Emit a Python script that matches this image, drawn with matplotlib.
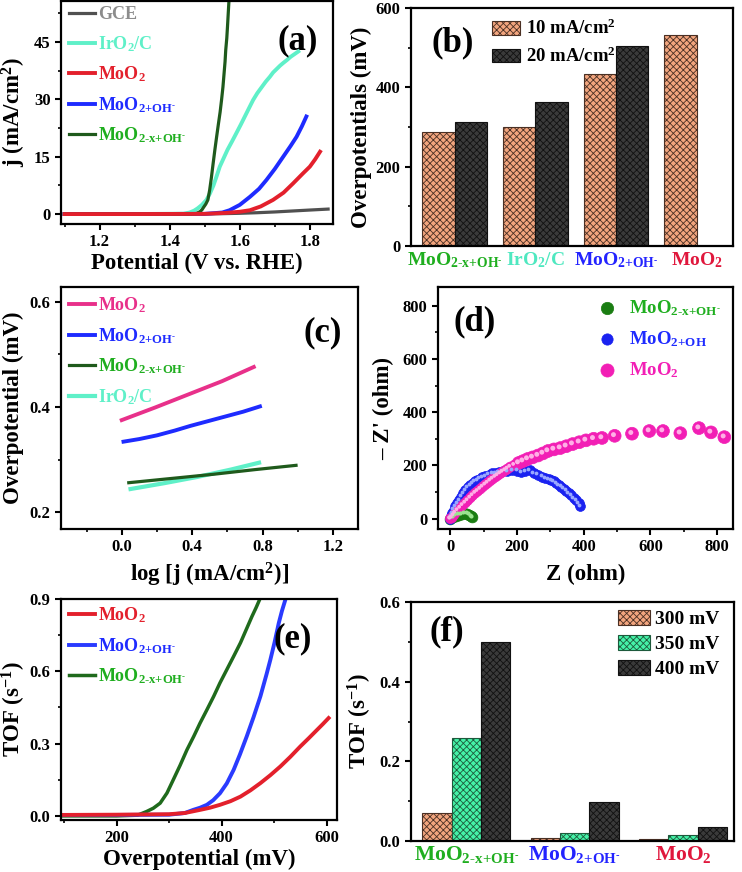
import numpy as np
import matplotlib
matplotlib.use("Agg")
import matplotlib.pyplot as plt
from matplotlib.ticker import MultipleLocator, FormatStrFormatter
from matplotlib import transforms

plt.rcParams['font.family'] = ['Liberation Serif', 'DejaVu Serif']
plt.rcParams['font.weight'] = 'bold'
plt.rcParams['axes.labelweight'] = 'bold'
plt.rcParams['mathtext.fontset'] = 'custom'
plt.rcParams['mathtext.rm'] = 'Liberation Serif:bold'
plt.rcParams['mathtext.it'] = 'Liberation Serif:bold'
plt.rcParams['mathtext.bf'] = 'Liberation Serif:bold'
plt.rcParams['mathtext.default'] = 'rm'
plt.rcParams['axes.linewidth'] = 1.6
plt.rcParams['hatch.linewidth'] = 0.6

# ---- labels
L_GCE = 'GCE'
L_IRO2 = r'IrO$_2$/C'
L_MOO2 = r'MoO$_2$'
L_OH = r'MoO$_{\text{2+OH}^{\text{-}}}$'
L_XOH = r'MoO$_{\text{2-x+OH}^{\text{-}}}$'
L_OH_D = r'MoO$_{\text{2+OH}}$'

# ---- (a) polarization curves
a_gce_v = [1.10, 1.30, 1.50, 1.55, 1.60, 1.65, 1.70, 1.75, 1.80, 1.852]
a_gce_j = [0.0, 0.0, 0.05, 0.1, 0.2, 0.35, 0.55, 0.8, 1.05, 1.3]
a_iro2_v = [1.10, 1.30, 1.44, 1.457, 1.47, 1.48, 1.492, 1.505, 1.515, 1.525, 1.534, 1.543,
            1.554, 1.565, 1.578, 1.590, 1.603, 1.615, 1.627, 1.638, 1.650, 1.662, 1.674,
            1.686, 1.695, 1.705, 1.715, 1.724, 1.735, 1.745, 1.756, 1.767]
a_iro2_j = [0.0, 0.0, 0.1, 0.4, 0.9, 1.5, 2.4, 3.7, 5.4, 7.5, 9.9, 12.4,
            14.6, 16.8, 19.0, 21.1, 23.4, 25.6, 27.8, 29.8, 31.6, 33.1, 34.6,
            35.9, 37.0, 37.9, 38.8, 39.5, 40.3, 41.1, 41.8, 42.5]
a_moo2_v = [1.10, 1.30, 1.50, 1.56, 1.60, 1.629, 1.66, 1.695, 1.725, 1.752, 1.78, 1.80, 1.815, 1.829]
a_moo2_j = [0.0, 0.0, 0.05, 0.3, 0.6, 1.0, 2.0, 3.7, 5.6, 8.0, 10.6, 12.4, 14.3, 16.3]
a_oh_v = [1.10, 1.30, 1.50, 1.55, 1.571, 1.60, 1.629, 1.655, 1.676, 1.70, 1.724, 1.745, 1.762, 1.777, 1.79]
a_oh_j = [0.0, 0.0, 0.05, 0.4, 1.0, 2.4, 4.5, 6.6, 8.9, 11.8, 15.0, 17.8, 20.2, 22.9, 25.5]
a_xoh_v = [1.10, 1.30, 1.46, 1.475, 1.486, 1.492, 1.497, 1.503, 1.509, 1.514, 1.519, 1.524,
           1.529, 1.534, 1.539, 1.544, 1.548, 1.552, 1.555, 1.558, 1.56, 1.563, 1.565, 1.569]
a_xoh_j = [0.0, 0.0, 0.0, 0.1, 0.6, 1.1, 1.8, 2.6, 3.7, 6.2, 9.5, 13.2,
           16.8, 20.2, 23.5, 26.7, 29.8, 33.2, 36.5, 39.8, 42.9, 46.0, 49.0, 55.5]

# ---- (b) overpotentials
b_cats = [L_XOH, L_IRO2, L_OH, L_MOO2]
b_cat_colors = ['#1fae1f', '#4fe8c0', '#2323ff', '#e0173c']
b_10 = [288, 300, 433, 533]
b_20 = [312, 363, 504, np.nan]

# ---- (c) Tafel plots
c_moo2_x = [0.00, 0.19, 0.38, 0.57, 0.75]
c_moo2_y = [0.375, 0.399, 0.424, 0.449, 0.476]
c_oh_x = [0.01, 0.10, 0.20, 0.30, 0.39, 0.49, 0.59, 0.69, 0.785]
c_oh_y = [0.334, 0.339, 0.346, 0.355, 0.364, 0.373, 0.382, 0.391, 0.401]
c_xoh_x = [0.04, 0.28, 0.52, 0.76, 0.99]
c_xoh_y = [0.256, 0.264, 0.272, 0.281, 0.289]
c_iro2_x = [0.05, 0.24, 0.43, 0.62, 0.78]
c_iro2_y = [0.244, 0.255, 0.267, 0.281, 0.294]

# ---- (d) Nyquist plots
d_moo2_z = [0, 5, 10, 15, 22, 30, 37, 45, 52, 60, 67, 75, 82, 90, 97, 105, 112, 120, 127,
            135, 142, 150, 157, 165, 172, 180, 192, 205, 218, 232, 247, 263, 278, 293, 311,
            330, 348, 367, 387, 407, 430, 455, 493, 545, 597, 638, 690, 746, 782, 822]
d_moo2_zz = [0, 3, 12, 21, 31, 40, 50, 59, 68, 78, 87, 96, 103, 111, 119, 127, 134, 142, 149,
             156, 162, 169, 175, 181, 187, 194, 201, 209, 216, 224, 230, 237, 245, 254, 260,
             265, 272, 280, 287, 294, 300, 303, 311, 319, 329, 329, 321, 340, 324, 306]
d_oh_z = [0, 3, 6, 10, 15, 20, 26, 32, 38, 45, 52, 60, 67, 73, 80, 88, 96, 105, 115, 125, 135,
          145, 157, 170, 185, 200, 212, 225, 238, 250, 262, 275, 285, 295, 303, 310, 318, 325,
          333, 340, 348, 355, 363, 370, 378, 385, 390]
d_oh_zz = [0, 10, 21, 34, 46, 58, 70, 83, 96, 108, 117, 126, 133, 140, 146, 150, 155, 160, 165,
           170, 172, 175, 177, 179, 181, 180, 174, 178, 181, 170, 165, 158, 153, 149, 145, 140,
           134, 126, 120, 113, 105, 96, 87, 78, 69, 58, 48]
d_xoh_z = [0, 8, 16, 25, 34, 42, 50, 57, 62, 65]
d_xoh_zz = [0, 6, 11, 15, 18, 20, 19, 15, 10, 5]

# ---- (e) TOF curves
e_moo2_x = [94, 200, 300, 330, 359, 378, 397, 417, 436, 455, 474, 493, 512, 531, 550, 566, 582, 593, 604]
e_moo2_y = [0.004, 0.005, 0.007, 0.012, 0.025, 0.034, 0.046, 0.061, 0.080, 0.106, 0.136, 0.169,
            0.205, 0.245, 0.288, 0.322, 0.357, 0.381, 0.406]
e_oh_x = [94, 200, 300, 330, 346, 359, 372, 384, 397, 410, 423, 435, 448, 461, 474, 486, 493,
          501, 509, 515, 522]
e_oh_y = [0.004, 0.004, 0.005, 0.012, 0.025, 0.034, 0.046, 0.065, 0.094, 0.135, 0.191, 0.255,
          0.33, 0.41, 0.496, 0.59, 0.648, 0.72, 0.80, 0.85, 0.90]
e_xoh_x = [94, 200, 240, 257, 270, 283, 296, 308, 321, 334, 347, 359, 372, 385, 397, 410, 423,
           436, 447, 458, 466, 473]
e_xoh_y = [0.0, 0.0, 0.003, 0.018, 0.032, 0.053, 0.095, 0.15, 0.21, 0.274, 0.33, 0.385, 0.44,
           0.496, 0.552, 0.607, 0.662, 0.718, 0.773, 0.828, 0.865, 0.9]

# ---- (f) TOF bars
f_cats = [L_XOH, L_OH, L_MOO2]
f_cat_colors = ['#1fae1f', '#2323ff', '#e0173c']
f_300 = [0.071, 0.0075, 0.006]
f_350 = [0.259, 0.019, 0.014]
f_400 = [0.500, 0.098, 0.035]

W, H = 742, 872
BOXES = {
    'a': (61, 333, 1, 224),
    'b': (411, 733, 8, 246),
    'c': (61, 358, 287, 529),
    'd': (438, 733, 287, 529),
    'e': (61, 337, 599, 820),
    'f': (411, 734, 602, 841),
}

TICK_FS = 12
LABEL_FS = 16.5
LEG_FS = 13


def make_ax(fig, key):
    l, r, t, b = BOXES[key]
    ax = fig.add_axes([l / W, 1 - b / H, (r - l) / W, (b - t) / H])
    ax.tick_params(which='major', direction='out', length=4, width=1.5, labelsize=TICK_FS)
    ax.tick_params(which='minor', direction='out', length=2.5, width=1.2)
    return ax


def bold_ticks(ax):
    for t in ax.get_xticklabels() + ax.get_yticklabels():
        t.set_fontweight('bold')


def panel_tag(ax, text, x, y):
    ax.text(x, y, text, transform=ax.transAxes, fontsize=25, fontweight='bold',
            ha='center', va='center')


def line_legend(ax, handles, labels, colors, anchor):
    leg = ax.legend(handles, labels, frameon=False, fontsize=LEG_FS, loc='upper left',
                    bbox_to_anchor=anchor, handlelength=1.45, handletextpad=0.15,
                    labelspacing=0.6, borderaxespad=0.2)
    for t, c in zip(leg.get_texts(), colors):
        t.set_color(c)
    return leg


def draw_a(fig):
    ax = make_ax(fig, 'a')
    ax.plot(a_gce_v, a_gce_j, color='#505050', lw=2.3, label=L_GCE)
    ax.plot(a_iro2_v, a_iro2_j, color='#5ff0c8', lw=2.8, label=L_IRO2)
    ax.plot(a_oh_v, a_oh_j, color='#1e2bff', lw=2.8, label=L_OH)
    ax.plot(a_xoh_v, a_xoh_j, color='#1f5a1c', lw=2.3, label=L_XOH)
    ax.plot(a_moo2_v, a_moo2_j, color='#e3202c', lw=2.8, label=L_MOO2)
    ax.set_xlim(1.09, 1.866)
    ax.set_ylim(-2.6, 55.7)
    ax.xaxis.set_major_locator(MultipleLocator(0.2))
    ax.xaxis.set_minor_locator(MultipleLocator(0.1))
    ax.yaxis.set_major_locator(MultipleLocator(15))
    ax.yaxis.set_minor_locator(MultipleLocator(7.5))
    ax.xaxis.set_major_formatter(FormatStrFormatter('%.1f'))
    ax.set_xlabel('Potential (V vs. RHE)', fontsize=LABEL_FS, labelpad=2)
    ax.set_ylabel(r'j (mA/cm$^2$)', fontsize=LABEL_FS, labelpad=4)
    h, l = ax.get_legend_handles_labels()
    order = [0, 1, 4, 2, 3]
    line_legend(ax, [h[i] for i in order], [l[i] for i in order],
                ['#8c8c8c', '#5ff0c8', '#e3202c', '#1e2bff', '#1fae1f'], (-0.01, 1.025))
    panel_tag(ax, '(a)', 0.87, 0.82)
    bold_ticks(ax)


def draw_b(fig):
    ax = make_ax(fig, 'b')
    x = np.arange(len(b_cats))
    ax.bar(x - 0.2, b_10, 0.4, color='#f2a57e', edgecolor='#4a3024', hatch='xxxxx',
           lw=0.8, label=r'10 mA/cm$^2$')
    ax.bar(x + 0.2, b_20, 0.4, color='#3a3a3a', edgecolor='#111111', hatch='xxxxx',
           lw=0.8, label=r'20 mA/cm$^2$')
    ax.set_xlim(-0.54, 3.45)
    ax.set_ylim(0, 600)
    ax.yaxis.set_major_locator(MultipleLocator(200))
    ax.yaxis.set_minor_locator(MultipleLocator(100))
    ax.set_xticks(x)
    ax.set_xticklabels(b_cats, fontsize=14)
    ax.tick_params(axis='x', length=0, pad=3)
    for t, c in zip(ax.get_xticklabels(), b_cat_colors):
        t.set_color(c)
    ax.set_ylabel('Overpotentials (mV)', fontsize=LABEL_FS, labelpad=3)
    ax.legend(frameon=False, fontsize=LEG_FS + 0.5, loc='upper left',
              bbox_to_anchor=(0.2, 1.025), handlelength=1.5, handleheight=0.75,
              handletextpad=0.3, labelspacing=0.45)
    panel_tag(ax, '(b)', 0.13, 0.855)
    bold_ticks(ax)


def draw_c(fig):
    ax = make_ax(fig, 'c')
    ax.plot(c_moo2_x, c_moo2_y, color='#e8308a', lw=2.8, label=L_MOO2)
    ax.plot(c_oh_x, c_oh_y, color='#1e2bff', lw=2.8, label=L_OH)
    ax.plot(c_iro2_x, c_iro2_y, color='#5ff0c8', lw=3.0, label=L_IRO2)
    ax.plot(c_xoh_x, c_xoh_y, color='#1f5a1c', lw=2.3, label=L_XOH)
    ax.set_xlim(-0.345, 1.342)
    ax.set_ylim(0.168, 0.628)
    ax.xaxis.set_major_locator(MultipleLocator(0.4))
    ax.xaxis.set_minor_locator(MultipleLocator(0.2))
    ax.yaxis.set_major_locator(MultipleLocator(0.2))
    ax.yaxis.set_minor_locator(MultipleLocator(0.1))
    ax.xaxis.set_major_formatter(FormatStrFormatter('%.1f'))
    ax.yaxis.set_major_formatter(FormatStrFormatter('%.1f'))
    ax.set_xlabel(r'log [j (mA/cm$^2$)]', fontsize=LABEL_FS, labelpad=4)
    ax.set_ylabel('Overpotential (mV)', fontsize=LABEL_FS, labelpad=4)
    h, l = ax.get_legend_handles_labels()
    order = [0, 1, 3, 2]
    line_legend(ax, [h[i] for i in order], [l[i] for i in order],
                ['#e8308a', '#1e2bff', '#1fae1f', '#5ff0c8'], (-0.01, 1.01))
    panel_tag(ax, '(c)', 0.88, 0.81)
    bold_ticks(ax)


def balls(ax, fig, x, y, color, light, size, label):
    ax.scatter(x, y, s=size, color=color, edgecolors=color, linewidths=0.5,
               label=label, zorder=3)
    off = transforms.offset_copy(ax.transData, fig=fig, x=-1.2, y=1.2, units='dots')
    ax.scatter(x, y, s=np.asarray(size) * 0.15, color=light, linewidths=0,
               transform=off, zorder=4)


def draw_d(fig):
    ax = make_ax(fig, 'd')
    mz = np.array(d_moo2_z)
    sizes = np.where(mz < 200, 50, 85)
    balls(ax, fig, d_xoh_z, d_xoh_zz, '#1a7d12', '#9be58f', 60, L_XOH)
    balls(ax, fig, d_oh_z, d_oh_zz, '#1a22f0', '#9aa8ff', 50, L_OH_D)
    balls(ax, fig, d_moo2_z, d_moo2_zz, '#f21fb5', '#ffb0e6', sizes, L_MOO2)
    ax.set_xlim(-37, 848)
    ax.set_ylim(-39, 870)
    ax.xaxis.set_major_locator(MultipleLocator(200))
    ax.xaxis.set_minor_locator(MultipleLocator(100))
    ax.yaxis.set_major_locator(MultipleLocator(200))
    ax.yaxis.set_minor_locator(MultipleLocator(100))
    ax.set_xlabel('Z (ohm)', fontsize=LABEL_FS, labelpad=6)
    ax.set_ylabel("– Z' (ohm)", fontsize=LABEL_FS, labelpad=6)
    h, l = ax.get_legend_handles_labels()
    leg = ax.legend(h, l, frameon=False, fontsize=LEG_FS + 0.5, loc='upper left',
                    bbox_to_anchor=(0.47, 1.0), handletextpad=0.2, labelspacing=0.6,
                    scatterpoints=1, markerscale=1.15, borderaxespad=0.2)
    for t, c in zip(leg.get_texts(), ['#1fae1f', '#1e2bff', '#f21fb5']):
        t.set_color(c)
    panel_tag(ax, '(d)', 0.125, 0.855)
    bold_ticks(ax)


def draw_e(fig):
    ax = make_ax(fig, 'e')
    ax.plot(e_xoh_x, e_xoh_y, color='#1f6a1c', lw=2.5, label=L_XOH)
    ax.plot(e_oh_x, e_oh_y, color='#2a3bff', lw=2.8, label=L_OH)
    ax.plot(e_moo2_x, e_moo2_y, color='#e3202c', lw=2.8, label=L_MOO2)
    ax.set_xlim(94, 620)
    ax.set_ylim(-0.017, 0.9)
    ax.xaxis.set_major_locator(MultipleLocator(200))
    ax.xaxis.set_minor_locator(MultipleLocator(100))
    ax.yaxis.set_major_locator(MultipleLocator(0.3))
    ax.yaxis.set_minor_locator(MultipleLocator(0.15))
    ax.yaxis.set_major_formatter(FormatStrFormatter('%.1f'))
    ax.set_xlabel('Overpotential (mV)', fontsize=LABEL_FS, labelpad=2)
    ax.set_ylabel(r'TOF (s$^{-1}$)', fontsize=LABEL_FS, labelpad=1)
    h, l = ax.get_legend_handles_labels()
    order = [2, 1, 0]
    line_legend(ax, [h[i] for i in order], [l[i] for i in order],
                ['#e3202c', '#1e2bff', '#1fae1f'], (-0.01, 1.02))
    panel_tag(ax, '(e)', 0.84, 0.82)
    bold_ticks(ax)


def draw_f(fig):
    ax = make_ax(fig, 'f')
    x = np.arange(len(f_cats))
    w = 0.27
    ax.bar(x - w, f_300, w, color='#f2a57e', edgecolor='#4a3024', hatch='xxxxx', lw=0.8,
           label='300 mV')
    ax.bar(x, f_350, w, color='#45f2a8', edgecolor='#1d5a3c', hatch='xxxxx', lw=0.8,
           label='350 mV')
    ax.bar(x + w, f_400, w, color='#3a3a3a', edgecolor='#111111', hatch='xxxxx', lw=0.8,
           label='400 mV')
    ax.set_xlim(-0.51, 2.47)
    ax.set_ylim(0, 0.6)
    ax.yaxis.set_major_locator(MultipleLocator(0.2))
    ax.yaxis.set_minor_locator(MultipleLocator(0.1))
    ax.yaxis.set_major_formatter(FormatStrFormatter('%.1f'))
    ax.set_xticks(x)
    ax.set_xticklabels(f_cats, fontsize=15.5)
    ax.tick_params(axis='x', length=0, pad=2)
    for t, c in zip(ax.get_xticklabels(), f_cat_colors):
        t.set_color(c)
    ax.set_ylabel(r'TOF (s$^{-1}$)', fontsize=LABEL_FS, labelpad=4)
    ax.legend(frameon=False, fontsize=LEG_FS + 1, loc='upper right',
              bbox_to_anchor=(1.01, 1.04), handlelength=1.6, handleheight=0.8,
              handletextpad=0.3, labelspacing=0.35)
    panel_tag(ax, '(f)', 0.11, 0.875)
    bold_ticks(ax)


def go():
    fig = plt.figure(figsize=(W / 100, H / 100), dpi=100)
    draw_a(fig)
    draw_b(fig)
    draw_c(fig)
    draw_d(fig)
    draw_e(fig)
    draw_f(fig)
    fig.savefig('out.png', dpi=100)
    plt.close(fig)


if __name__ == "__main__":
    go()
